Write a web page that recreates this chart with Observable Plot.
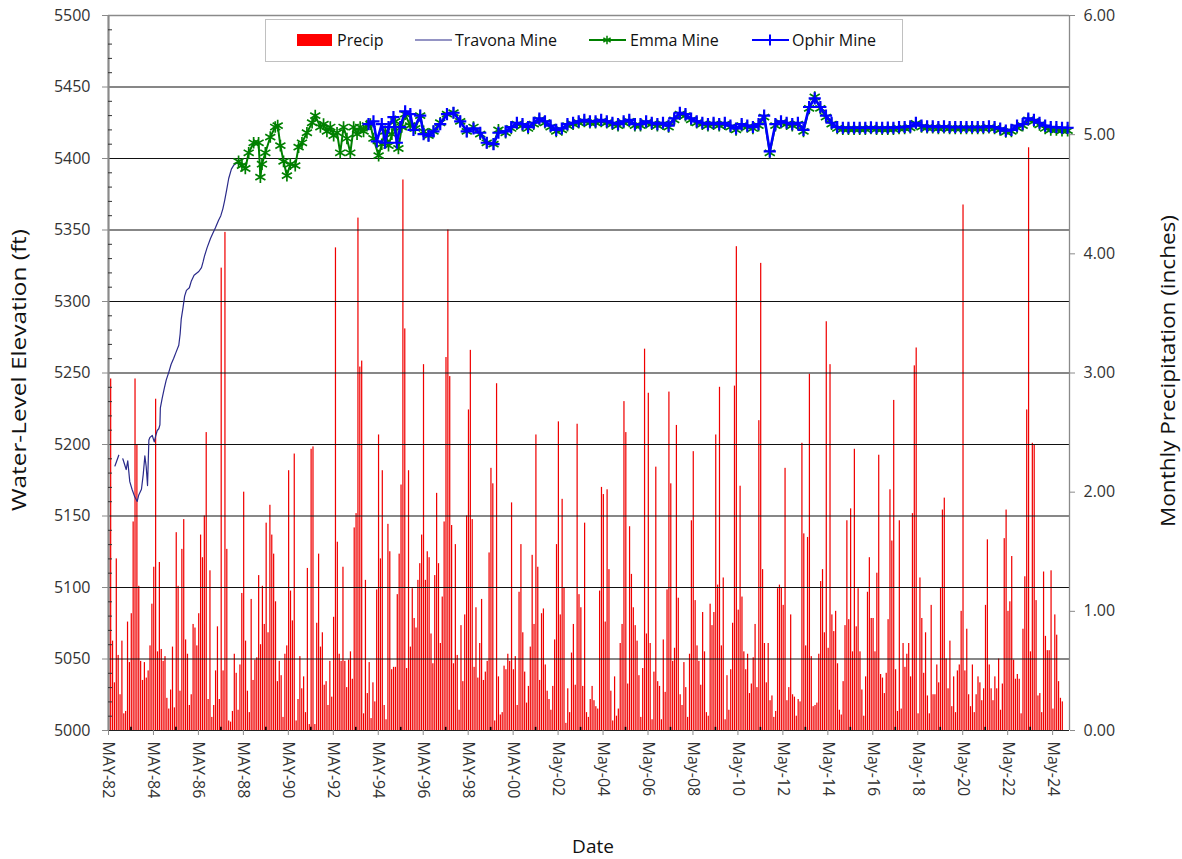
<!DOCTYPE html>
<html><head><meta charset="utf-8">
<script src="https://cdn.jsdelivr.net/npm/d3@7"></script>
<script src="https://cdn.jsdelivr.net/npm/@observablehq/plot@0.6"></script>
<style>
html,body{margin:0;padding:0;background:#fff;}
#chart{position:relative;width:1182px;height:859px;}
</style></head><body><div id="chart"></div>
<script>
// ---------- DATA ----------
// Monthly precipitation (inches), starting May 1982
const precip = [
1.67,2.95,0.75,0.40,1.44,0.63,0.30,0.75,0.14,0.16,
0.91,0.57,0.98,1.75,2.95,2.40,1.21,0.58,0.42,0.57,
0.44,0.50,0.71,1.06,1.37,2.78,0.66,1.41,0.68,0.58,
0.62,0.27,0.18,0.34,0.70,0.19,1.66,1.21,0.33,1.52,
1.77,0.76,0.64,0.21,0.30,0.89,0.86,0.71,0.98,1.64,
1.45,1.80,2.50,0.26,1.34,0.11,0.21,0.50,0.87,0.26,
3.88,0.50,4.18,1.52,0.08,0.07,0.16,0.64,0.48,0.17,
0.55,1.15,2.00,
0.75,0.33,0.15,1.10,0.42,0.59,0.61,1.30,0.72,1.21,
0.89,1.74,0.82,1.89,1.64,1.48,1.08,0.41,0.58,0.46,
0.11,0.64,0.71,2.18,1.17,0.92,2.32,0.08,0.26,0.62,
0.35,0.45,0.15,1.36,0.05,2.36,2.38,0.05,0.90,1.48,
0.70,0.82,0.38,0.41,0.21,0.58,0.28,0.95,4.05,1.58,
0.64,0.58,1.37,0.58,0.36,0.59,0.66,0.43,1.70,1.82,
4.30,3.05,3.10,0.14,1.26,0.31,0.57,0.10,0.40,0.24,
1.18,2.48,1.44,2.18,
0.21,0.09,1.73,1.50,0.51,0.53,0.53,1.14,1.48,2.06,
4.62,3.37,0.52,2.18,0.70,1.19,0.94,0.86,1.26,1.40,
1.64,3.07,1.26,1.50,1.45,0.81,0.56,1.30,1.99,1.40,
0.73,1.12,1.75,3.13,4.20,2.97,1.72,0.56,1.56,0.63,
0.17,0.88,0.41,0.97,1.80,2.69,3.19,1.77,0.53,1.03,
0.44,0.73,1.10,0.42,0.49,0.58,1.49,2.20,2.07,0.08,
2.91,0.45,0.13,0.15,0.54,0.51,0.64,0.58,1.91,0.51,
0.62,0.21,1.16,
1.56,0.82,0.49,0.23,0.37,0.70,1.47,0.89,2.48,1.37,
0.42,0.98,1.02,0.55,0.33,0.26,0.17,0.37,0.76,1.56,
2.59,0.97,1.94,1.20,0.06,0.35,0.15,0.65,0.89,0.38,
2.57,1.14,1.03,0.37,1.74,0.15,0.11,0.26,0.37,0.25,
0.20,0.18,1.17,2.04,1.98,0.91,2.02,1.35,0.33,0.08,
0.45,0.12,0.18,0.73,0.89,2.76,2.50,0.39,1.71,1.31,
1.03,0.88,0.75,0.46,0.11,0.52,3.20,0.81,2.83,0.73,
0.09,0.49,2.21,
0.41,0.37,0.09,0.76,0.32,1.18,2.84,2.07,0.58,0.69,
2.56,1.11,0.30,0.21,0.57,0.36,0.11,0.64,1.76,2.34,
1.09,0.71,0.58,0.38,0.99,0.66,0.15,0.12,1.06,0.88,
0.99,2.48,1.22,2.88,0.71,1.28,0.09,0.46,0.17,0.51,
0.90,2.89,4.06,1.01,2.05,1.12,0.66,0.51,0.64,0.31,
0.39,0.61,0.89,0.36,2.60,3.92,1.35,0.73,0.40,0.73,
0.25,0.29,0.11,0.16,1.19,1.22,1.20,1.05,2.20,0.25,
0.36,0.97,0.30,
0.28,0.12,0.26,0.24,2.41,1.65,0.71,1.62,2.99,0.62,
0.20,0.21,0.23,0.64,1.25,1.35,0.82,3.43,0.69,3.07,
0.97,0.83,1.00,0.56,0.17,0.13,0.41,0.88,1.76,0.93,
1.86,0.66,2.36,0.87,1.19,0.66,0.34,0.12,0.45,1.16,
1.45,0.94,0.94,0.66,1.32,2.31,0.47,0.44,0.31,0.48,
0.93,2.02,1.59,2.77,0.51,0.16,1.76,0.18,0.73,0.53,
0.64,0.73,0.45,1.82,3.06,3.21,0.14,1.28,0.94,0.48,
0.82,0.29,0.14,1.05,
0.30,0.30,0.55,0.40,1.20,1.85,1.95,0.60,0.35,0.75,
0.20,0.45,0.15,0.50,0.55,1.00,4.41,0.50,0.85,0.30,
0.20,0.55,0.15,0.30,0.45,0.40,0.25,0.35,1.05,1.60,
0.55,0.35,0.25,0.45,0.35,0.60,
0.17,0.39,1.61,1.85,1.00,1.08,1.46,0.59,0.43,0.47,
0.43,0.14,0.85,1.29,2.69,4.89,0.66,2.41,2.40,1.09,
0.29,0.31,0.15,1.33,0.79,0.67,0.67,1.34,0.18,0.97,
0.80,0.41,0.27,0.24
];

// Travona Mine water level (decimal year, ft); NaN marks a gap
const travonaYears = [1982.62,1982.79,1982.88,1982.97,1983.12,1983.19,1983.28,1983.38,1983.50,1983.61,
1983.68,1983.80,1983.88,1983.95,1984.01,1984.07,1984.13,1984.18,1984.28,1984.37,
1984.43,1984.50,1984.57,1984.62,1984.64,1984.72,1984.81,1984.90,1985.02,1985.12,
1985.23,1985.34,1985.46,1985.52,1985.57,1985.65,1985.72,1985.80,1985.93,1986.02,
1986.14,1986.35,1986.47,1986.54,1986.60,1986.72,1986.87,1986.97,1987.09,1987.23,
1987.33,1987.42,1987.50,1987.59,1987.68,1987.80,1987.90,1988.03,1988.16];
const travonaValues = [5185,5192.5,NaN,5190,5182.5,5188.6,5174,5168.7,5163.4,5160.2,
5164.7,5168.7,5179.3,5192,5184.6,5171.3,5203.1,5205,5206.3,5201.8,
5205.8,5209.8,5211,5213.7,5225.6,5232.3,5238.9,5245,5250.8,5256.1,
5260.1,5264.6,5269.4,5277.3,5287.9,5295.9,5303.8,5307.8,5309.6,5314.4,
5318.4,5321,5323.7,5327.7,5331.6,5337.7,5344.1,5347.5,5351.5,5356.8,
5360,5364.8,5370.6,5378,5386,5392.6,5395.2,5396.6,5398.7];

// Emma Mine, 1988-1999 (decimal year, ft)
const emmaEarlyYears = [1988.12,1988.27,1988.42,1988.57,1988.79,1989.01,1989.09,1989.16,1989.31,1989.53,
1989.75,1989.86,1989.98,1990.12,1990.27,1990.42,1990.64,1990.79,1990.94,1991.16,
1991.39,1991.53,1991.76,1991.90,1992.05,1992.20,1992.35,1992.50,1992.64,1992.79,
1992.94,1993.09,1993.24,1993.39,1993.53,1993.68,1993.83,1993.98,1994.12,1994.35,
1994.49,1994.64,1994.79,1994.94,1995.09,1995.23,1995.38,1995.53,1995.75,1995.98,
1996.20,1996.35,1996.57,1996.79,1997.09,1997.39,1997.68,1997.98,1998.27,1998.57,
1998.87,1999.16,1999.46,1999.68];
const emmaEarlyValues = [5398,5395,5393,5404,5411,5411,5387,5396,5404,5415,
5422,5423,5409,5398,5388,5396,5395,5408,5411,5418,
5425,5430,5422,5424,5419,5422,5416,5418,5404,5422,
5414,5404,5422,5417,5422,5419,5423,5424,5414,5402,
5410,5419,5409,5417,5426,5407,5422,5431,5423,5421,
5430,5419,5416,5419,5425,5431,5432,5426,5419,5422,
5417,5411,5410,5420];
// Emma Mine, quarterly from 2000.00 to 2025.00
const emmaQuarterly = [
5418,5421,5424,5423,5421,5424,5427,5425,5422,5419,
5420,5423,5424,5425,5426,5425,5425,5426,5425,5424,
5423,5425,5426,5423,5423,5425,5424,5423,5424,5422,
5427,5431,5430,5427,5425,5424,5423,5424,5423,5424,
5422,5420,5423,5422,5421,5423,5429,5404,5423,5425,
5424,5423,5424,5419,5435,5443,5435,5429,5424,5421,
5420.5,5420.5,5420.5,5420.5,5420.5,5421,5420.5,5420.5,5420.5,5420.5,
5421,5421,5421.5,5424.5,5422,5421.5,5421.5,5421,5421.5,5421,
5421,5421,5421,5421,5421,5421,5421.5,5421,5420,5418.5,
5419,5421.5,5423,5427,5426,5423.5,5421,5420,5420,5419.5,
5419.5];

// Ophir Mine, 1994-1999 (decimal year, ft)
const ophirEarlyYears = [1993.90,1994.12,1994.27,1994.49,1994.64,1994.79,1995.01,1995.16,1995.31,1995.53,
1995.76,1995.90,1996.20,1996.35,1996.57,1996.79,1997.09,1997.39,1997.68,1997.98,
1998.27,1998.57,1998.87,1999.16,1999.46,1999.68];
const ophirEarlyValues = [5424,5426,5412,5424,5411,5422,5429,5411,5422,5433,
5431,5420,5430,5417,5416,5419,5424,5431,5432,5426,
5419,5421,5418,5411,5410,5418];
// Ophir Mine, quarterly from 2000.00 to 2025.00
const ophirQuarterly = [
5419,5422,5425,5424,5422,5425,5428,5426,5423,5420,
5421,5424,5425,5426,5427,5426,5426,5427,5426,5425,
5424,5426,5427,5424,5424,5426,5425,5424,5425,5423,
5428,5432,5431,5428,5426,5425,5424,5425,5424,5425,
5423,5421,5424,5423,5422,5424,5430,5405,5424,5426,
5425,5424,5425,5420,5436,5442,5436,5430,5425,5422,
5421.5,5421.5,5421.5,5421.5,5421.5,5421.8,5421.5,5421.5,5421.6,5421.5,
5422,5422,5422.5,5425,5423,5422.5,5422.5,5422,5422.5,5422,
5422,5422,5422,5422,5422,5422,5422.5,5422,5421,5419.5,
5420,5423,5424,5428,5427,5425,5423,5422,5422,5421.5,
5421.5];

const tickLabels = ["MAY-82","MAY-84","MAY-86","MAY-88","MAY-90","MAY-92","MAY-94","MAY-96","MAY-98","MAY-00",
"May-02","May-04","May-06","May-08","May-10","May-12","May-14","May-16","May-18","May-20","May-22","May-24"];
const rightTicks = [0,1,2,3,4,5,6];
const seriesNames = ["Precip","Travona Mine","Emma Mine","Ophir Mine"];

// ---------- BUILD ----------
const x0 = 1982 + 4/12;            // May 1982
const xEnd = x0 + 513/12;
const ft = p => 5000 + p * 500 / 6; // inches -> left-axis units
const bars = precip.map((p, i) => ({a: x0 + (i + 0.1) / 12, b: x0 + (i + 0.75) / 12, v: ft(p)}));
const travona = travonaYears.map((t, i) => ({t, v: travonaValues[i]}));
const emma = emmaEarlyYears.map((t, i) => ({t, v: emmaEarlyValues[i]}))
  .concat(emmaQuarterly.map((v, i) => ({t: 2000 + i * 0.25, v})));
const ophir = ophirEarlyYears.map((t, i) => ({t, v: ophirEarlyValues[i]}))
  .concat(ophirQuarterly.map((v, i) => ({t: 2000 + i * 0.25, v})));
const xTicks = tickLabels.map((_, i) => x0 + 2 * i);
const xMinor = tickLabels.slice(0, -1).map((_, i) => x0 + 2 * i + 1);
const leftTicks = d3.range(5000, 5501, 50);
const gridVals = d3.range(5050, 5500, 50);
const minorY = d3.range(5010, 5500, 10).filter(v => v % 50 !== 0);
const pxYear = (xEnd - x0) / 961;

const navy = "#2a2a8a", green = "#008000", blue = "#0000ff";

const plot = Plot.plot({
  width: 1182, height: 859,
  marginLeft: 108, marginRight: 113, marginTop: 15, marginBottom: 129,
  style: {fontFamily: "'Open Sans', sans-serif", fontSize: "16px", color: "#333", background: "#fff"},
  x: {type: "linear", domain: [x0, xEnd], label: null},
  y: {domain: [5000, 5500], label: null},
  marks: [
    Plot.rect(bars, {x1: "a", x2: "b", y1: 5000, y2: "v", fill: "#f00000"}),
    Plot.ruleY(gridVals, {stroke: "#111", strokeWidth: 1.1}),
    Plot.ruleY([5500], {stroke: "#8a8a8a", strokeWidth: 1.6}),
    Plot.ruleX([xEnd], {stroke: "#8a8a8a", strokeWidth: 1.3}),
    Plot.ruleY([5000], {stroke: "#222", strokeWidth: 1.2}),
    Plot.ruleX([x0], {stroke: "#8a8a8a", strokeWidth: 2.2}),
    Plot.ruleY(minorY, {x1: x0, x2: x0 + 4 * pxYear, stroke: "#333", strokeWidth: 1}),
    Plot.ruleX(xMinor, {y1: 5000, y2: 5002.2, stroke: "#000", strokeWidth: 1.6}),
    Plot.axisY({anchor: "left", ticks: leftTicks, tickSize: 6, tickPadding: 12, tickFormat: d => String(d), stroke: "#8a8a8a", label: null}),
    Plot.axisY({anchor: "right", ticks: rightTicks.map(ft), tickSize: 5, tickPadding: 9,
      tickFormat: v => ((v - 5000) * 6 / 500).toFixed(2), stroke: "#8a8a8a", label: null}),
    Plot.axisX({ticks: xTicks, tickRotate: 90, tickSize: 5, tickPadding: 6,
      tickFormat: d => tickLabels[Math.round((d - x0) / 2)], stroke: "#8a8a8a", label: null}),
    Plot.line(travona, {x: "t", y: "v", stroke: navy, strokeWidth: 1.2}),
    Plot.line(emma, {x: "t", y: "v", stroke: green, strokeWidth: 2}),
    Plot.dot(emma, {x: "t", y: "v", symbol: "asterisk", r: 5.5, stroke: green, strokeWidth: 1.7}),
    Plot.line(ophir, {x: "t", y: "v", stroke: blue, strokeWidth: 2.6}),
    Plot.dot(ophir, {x: "t", y: "v", symbol: "plus", r: 4, stroke: blue, strokeWidth: 2.2})
  ]
});
document.getElementById("chart").appendChild(plot);

// ---------- TITLES & LEGEND ----------
const svg = d3.select(plot);
const font = "'Open Sans', sans-serif";
svg.append("text").attr("transform", "translate(18,370) rotate(-90)")
  .attr("text-anchor", "middle").attr("dominant-baseline", "central")
  .attr("font-family", font).attr("font-size", 20).attr("fill", "#111")
  .attr("textLength", 282).attr("lengthAdjust", "spacingAndGlyphs")
  .text("Water-Level Elevation (ft)");
svg.append("text").attr("transform", "translate(1167,371) rotate(-90)")
  .attr("text-anchor", "middle").attr("dominant-baseline", "central")
  .attr("font-family", font).attr("font-size", 20).attr("fill", "#111")
  .attr("textLength", 312).attr("lengthAdjust", "spacingAndGlyphs")
  .text("Monthly Precipitation (inches)");
svg.append("text").attr("x", 593).attr("y", 846)
  .attr("text-anchor", "middle").attr("dominant-baseline", "central")
  .attr("font-family", font).attr("font-size", 19).attr("fill", "#111")
  .text("Date");

const lg = svg.append("g");
lg.append("rect").attr("x", 265.5).attr("y", 19.5).attr("width", 637).attr("height", 42)
  .attr("fill", "#fff").attr("stroke", "#c0c0c0");
const ly = 40;
lg.append("rect").attr("x", 297).attr("y", 34).attr("width", 35).attr("height", 12).attr("fill", "#ff0000");
lg.append("line").attr("x1", 415).attr("x2", 452).attr("y1", ly).attr("y2", ly).attr("stroke", navy).attr("stroke-width", 1.2);
lg.append("line").attr("x1", 589).attr("x2", 626).attr("y1", ly).attr("y2", ly).attr("stroke", green).attr("stroke-width", 2);
lg.append("path").attr("transform", `translate(607,${ly})`).attr("d", d3.symbol(d3.symbolAsterisk, 50)())
  .attr("fill", "none").attr("stroke", green).attr("stroke-width", 1.5);
lg.append("line").attr("x1", 752).attr("x2", 789).attr("y1", ly).attr("y2", ly).attr("stroke", blue).attr("stroke-width", 2);
lg.append("path").attr("transform", `translate(770,${ly})`).attr("d", d3.symbol(d3.symbolPlus, 40)())
  .attr("fill", "none").attr("stroke", blue).attr("stroke-width", 2);
const lx = [337, 455, 630, 792];
seriesNames.forEach((n, i) => {
  lg.append("text").attr("x", lx[i]).attr("y", ly).attr("dominant-baseline", "central")
    .attr("text-anchor", "start")
    .attr("font-family", font).attr("font-size", 16).attr("fill", "#111").text(n);
});
</script></body></html>
